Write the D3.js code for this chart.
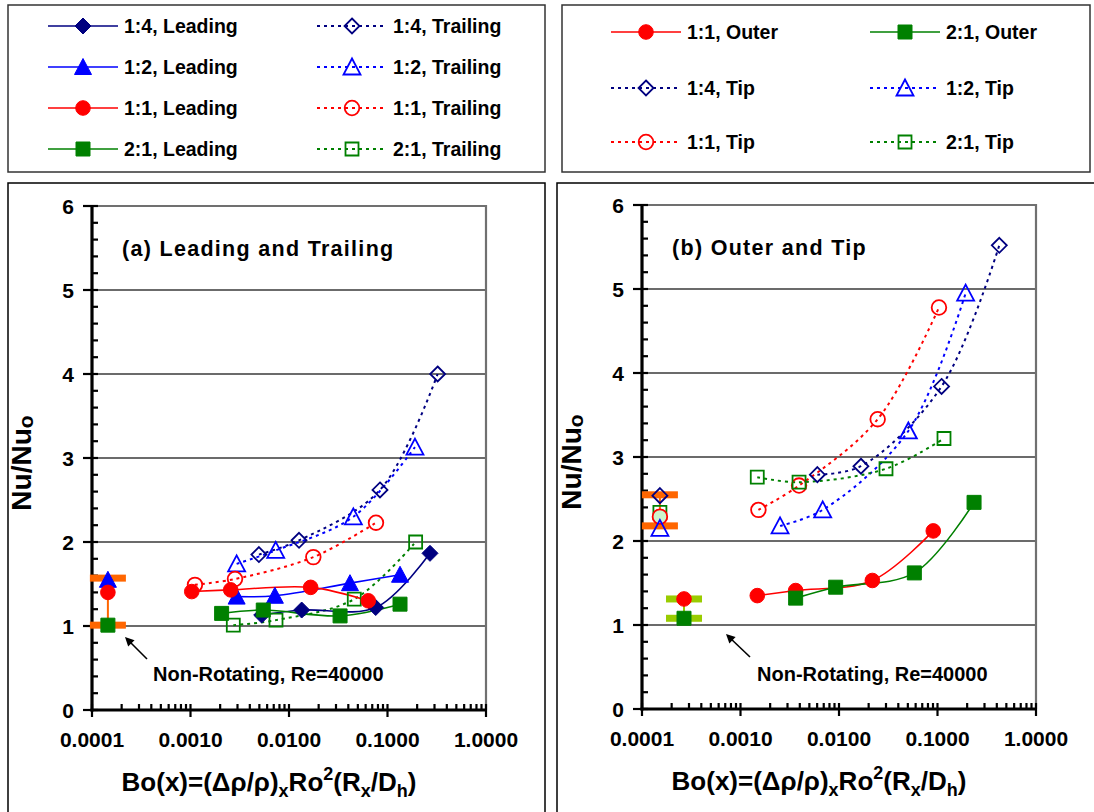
<!DOCTYPE html>
<html><head><meta charset="utf-8">
<script src="https://cdn.jsdelivr.net/npm/d3@7"></script>
<style>
body{margin:0;background:#fff}
svg{display:block}
text{font-family:"Liberation Sans",Arial,sans-serif;font-weight:bold;fill:#000}
</style>
</head><body>
<svg id="chart" width="1094" height="812"></svg>
<script>
// ---- axis ticks ----
const boTicks = [0.0001, 0.001, 0.01, 0.1, 1];
const boTickLabels = ["0.0001", "0.0010", "0.0100", "0.1000", "1.0000"];
const nuTicks = [0, 1, 2, 3, 4, 5, 6];

// ---- (a) Leading and Trailing ----
const bo14Lead = [0.00528, 0.01345, 0.0759, 0.270];
const nu14Lead = [1.13, 1.19, 1.22, 1.865];
const bo12Lead = [0.00294, 0.00719, 0.0416, 0.134];
const nu12Lead = [1.35, 1.36, 1.51, 1.61];
const bo11Lead = [0.00103, 0.00256, 0.0166, 0.0638];
const nu11Lead = [1.41, 1.43, 1.46, 1.30];
const bo21Lead = [0.00207, 0.00548, 0.033, 0.134];
const nu21Lead = [1.15, 1.19, 1.12, 1.26];

const bo14Trail = [0.00495, 0.01264, 0.0839, 0.323];
const nu14Trail = [1.85, 2.02, 2.62, 4.00];
const bo12Trail = [0.00294, 0.00733, 0.045, 0.190];
const nu12Trail = [1.74, 1.90, 2.30, 3.13];
const bo11Trail = [0.00111, 0.00283, 0.01766, 0.0764];
const nu11Trail = [1.49, 1.56, 1.82, 2.23];
const bo21Trail = [0.00272, 0.00738, 0.046, 0.193];
const nu21Trail = [1.01, 1.07, 1.32, 2.00];

// ---- (b) Outer and Tip ----
const bo11Outer = [0.00148, 0.00363, 0.0218, 0.0906];
const nu11Outer = [1.35, 1.41, 1.53, 2.12];
const bo21Outer = [0.00363, 0.00925, 0.0582, 0.235];
const nu21Outer = [1.32, 1.45, 1.62, 2.46];

const bo14Tip = [0.00603, 0.0167, 0.110, 0.424];
const nu14Tip = [2.79, 2.89, 3.84, 5.52];
const bo12Tip = [0.00252, 0.00683, 0.0506, 0.193];
const nu12Tip = [2.18, 2.37, 3.31, 4.95];
const bo11Tip = [0.00152, 0.00393, 0.0247, 0.1035];
const nu11Tip = [2.37, 2.66, 3.45, 4.78];
const bo21Tip = [0.00148, 0.00393, 0.030, 0.1164];
const nu21Tip = [2.76, 2.70, 2.86, 3.22];

// ---- non-rotating reference (Re=40000) ----
const nonRotBoA = 0.000145;
const nonRotA = [{key: "12", nu: 1.55}, {key: "11", nu: 1.40}, {key: "21", nu: 1.01}];
const nonRotRangeA = [1.01, 1.57];

const nonRotBoTip = 0.000152;
const nonRotTip = [{key: "14", nu: 2.54}, {key: "21", nu: 2.34}, {key: "11", nu: 2.29}, {key: "12", nu: 2.15}];
const nonRotRangeTip = [2.18, 2.55];

const nonRotBoOuter = 0.000267;
const nonRotOuter = [{key: "11", nu: 1.31}, {key: "21", nu: 1.08}];
const nonRotRangeOuter = [1.08, 1.31];

// ---- styles ----
const colors = {"14": "#000080", "12": "#0000FF", "11": "#FF0000", "21": "#008000"};
const shapes = {"14": "diamond", "12": "triangle", "11": "circle", "21": "square"};

const svg = d3.select("#chart");
svg.append("rect").attr("width", 1094).attr("height", 812).attr("fill", "#fff");

function zip(bo, nu) { return bo.map((b, i) => ({bo: b, nu: nu[i]})); }

function shapePath(shape) {
  switch (shape) {
    case "circle": return d3.symbol(d3.symbolCircle, Math.PI * 7.3 * 7.3)();
    case "square": return "M-7,-7H7V7H-7Z";
    case "triangle": return "M0,-8.5L8.5,7.5H-8.5Z";
    case "diamond": return "M0,-8L8,0L0,8L-8,0Z";
  }
}

function marker(g, key, cx, cy, filled, fillOverride) {
  const c = colors[key];
  const sh = shapes[key];
  let p = shapePath(sh);
  if (!filled && sh !== "circle") {
    // open markers are slightly smaller outlines
    if (sh === "square") p = "M-6.5,-6.5H6.5V6.5H-6.5Z";
    if (sh === "diamond") p = "M0,-7.5L7.5,0L0,7.5L-7.5,0Z";
  }
  g.append("path")
    .attr("d", p)
    .attr("transform", `translate(${cx},${cy})`)
    .attr("fill", filled ? c : (fillOverride || "none"))
    .attr("stroke", c)
    .attr("stroke-width", filled ? 1 : 1.8);
}

function drawPanel(cfg) {
  const x = d3.scaleLog().domain([1e-4, 1]).range([cfg.left, cfg.right]);
  const y = d3.scaleLinear().domain([0, 6]).range([cfg.bottom, cfg.top]);
  const g = svg.append("g");

  // outer frame
  g.append("rect").attr("x", cfg.boxX).attr("y", cfg.boxY)
    .attr("width", cfg.boxW).attr("height", cfg.boxH)
    .attr("fill", "#fff").attr("stroke", "#000").attr("stroke-width", 1.5);

  // gridlines
  g.selectAll(".grid").data(nuTicks.filter(v => v > 0 && v < 6)).join("line")
    .attr("x1", cfg.left).attr("x2", cfg.right)
    .attr("y1", d => y(d)).attr("y2", d => y(d))
    .attr("stroke", "#3a3a3a").attr("stroke-width", 1.3);

  // plot-area border (top and right)
  g.append("path")
    .attr("d", `M${cfg.left},${y(6)}H${cfg.right}V${y(0)}`)
    .attr("fill", "none").attr("stroke", "#707070").attr("stroke-width", 2.2);

  // y axis
  const minorY = d3.range(1, 30).map(i => i * 0.2).filter(v => Math.abs(v - Math.round(v)) > 1e-6);
  g.selectAll(".ymin").data(minorY).join("line")
    .attr("x1", cfg.left).attr("x2", cfg.left + 6)
    .attr("y1", d => y(d)).attr("y2", d => y(d))
    .attr("stroke", "#000").attr("stroke-width", 2.2);
  g.selectAll(".ymaj").data(nuTicks).join("line")
    .attr("x1", cfg.left - 9).attr("x2", cfg.left + 6)
    .attr("y1", d => y(d)).attr("y2", d => y(d))
    .attr("stroke", "#000").attr("stroke-width", 2.2);
  g.selectAll(".ylab").data(nuTicks).join("text")
    .attr("x", cfg.left - 18).attr("y", d => y(d))
    .attr("dy", "0.36em").attr("text-anchor", "end")
    .attr("font-size", 21).text(d => d);

  // x axis
  const minorX = [];
  for (let e = -4; e < 0; e++) for (let m = 2; m <= 9; m++) minorX.push(m * Math.pow(10, e));
  g.selectAll(".xmin").data(minorX).join("line")
    .attr("x1", d => x(d)).attr("x2", d => x(d))
    .attr("y1", cfg.bottom).attr("y2", cfg.bottom - 6)
    .attr("stroke", "#000").attr("stroke-width", 2.2);
  g.selectAll(".xmaj").data(boTicks).join("line")
    .attr("x1", d => x(d)).attr("x2", d => x(d))
    .attr("y1", cfg.bottom + 7).attr("y2", cfg.bottom - 6)
    .attr("stroke", "#000").attr("stroke-width", 2.2);
  g.selectAll(".xlab").data(boTicks).join("text")
    .attr("x", d => x(d)).attr("y", cfg.bottom + 37)
    .attr("text-anchor", "middle").attr("font-size", 21)
    .text((d, i) => boTickLabels[i]);

  g.append("line").attr("x1", cfg.left).attr("x2", cfg.left)
    .attr("y1", y(6)).attr("y2", y(0) + 1.5)
    .attr("stroke", "#000").attr("stroke-width", 3.2);
  g.append("line").attr("x1", cfg.left - 1.5).attr("x2", cfg.right)
    .attr("y1", y(0)).attr("y2", y(0))
    .attr("stroke", "#000").attr("stroke-width", 3.2);

  // axis titles
  const yt = g.append("text")
    .attr("transform", `translate(${cfg.left - 61},${(y(0) + y(6)) / 2 + 5}) rotate(-90)`)
    .attr("text-anchor", "middle").attr("font-size", 28);
  yt.append("tspan").text("Nu/Nu");
  yt.append("tspan").attr("font-size", 21).attr("dy", 2).text("o");

  const xt = g.append("text")
    .attr("x", cfg.xTitleX).attr("y", cfg.bottom + 81)
    .attr("text-anchor", "middle").attr("font-size", 26);
  xt.append("tspan").text("Bo(x)=(Δρ/ρ)");
  xt.append("tspan").attr("font-size", 18).attr("dy", 6).text("x");
  xt.append("tspan").attr("dy", -6).text("Ro");
  xt.append("tspan").attr("font-size", 18).attr("dy", -11).text("2");
  xt.append("tspan").attr("dy", 11).text("(R");
  xt.append("tspan").attr("font-size", 18).attr("dy", 6).text("x");
  xt.append("tspan").attr("dy", -6).text("/D");
  xt.append("tspan").attr("font-size", 18).attr("dy", 6).text("h");
  xt.append("tspan").attr("dy", -6).text(")");

  // panel title
  g.append("text").attr("x", cfg.left + 30).attr("y", cfg.top + 50)
    .attr("font-size", 21.5).attr("letter-spacing", 1.3).text(cfg.title);

  // non-rotating annotation
  g.append("text").attr("x", cfg.noteX).attr("y", 681)
    .attr("font-size", 20).text("Non-Rotating, Re=40000");
  g.append("line")
    .attr("x1", cfg.arrow[0]).attr("y1", cfg.arrow[1])
    .attr("x2", cfg.arrow[2] + 3).attr("y2", cfg.arrow[3] + 3)
    .attr("stroke", "#000").attr("stroke-width", 1.6);
  const ang = Math.atan2(cfg.arrow[3] - cfg.arrow[1], cfg.arrow[2] - cfg.arrow[0]);
  const ax = cfg.arrow[2], ay = cfg.arrow[3];
  const L = 9, W = 4.5;
  const bx = ax - L * Math.cos(ang), by = ay - L * Math.sin(ang);
  g.append("path")
    .attr("d", `M${ax},${ay}L${bx + W * Math.sin(ang)},${by - W * Math.cos(ang)}L${bx - W * Math.sin(ang)},${by + W * Math.cos(ang)}Z`)
    .attr("fill", "#000");

  // range bars for the non-rotating reference
  cfg.ranges.forEach(r => {
    g.append("line").attr("x1", x(r.bo)).attr("x2", x(r.bo))
      .attr("y1", y(r.lo)).attr("y2", y(r.hi))
      .attr("stroke", r.color).attr("stroke-width", 2);
    [r.lo, r.hi].forEach(v => {
      g.append("rect").attr("x", x(r.bo) - 18).attr("y", y(v) - 3.5)
        .attr("width", 36).attr("height", 7).attr("fill", r.color);
    });
  });

  // series
  const line = d3.line().x(d => x(d.bo)).y(d => y(d.nu)).curve(d3.curveCatmullRom.alpha(0.5));
  cfg.series.forEach(s => {
    g.append("path").datum(zip(s.bo, s.nu)).attr("d", line)
      .attr("fill", "none").attr("stroke", colors[s.key])
      .attr("stroke-width", s.filled ? 1.6 : 2)
      .attr("stroke-dasharray", s.filled ? null : "3,4");
  });
  cfg.series.forEach(s => {
    zip(s.bo, s.nu).forEach(d => marker(g, s.key, x(d.bo), y(d.nu), s.filled));
  });

  // non-rotating markers
  cfg.nonRot.forEach(n => {
    n.pts.forEach(p => marker(g, p.key, x(n.bo), y(p.nu), n.filled, p.key === "11" && !n.filled ? "#ccf5cc" : null));
  });
}

drawPanel({
  left: 92, right: 486, top: 206, bottom: 710,
  boxX: 8, boxY: 183, boxW: 537, boxH: 640,
  xTitleX: 269,
  title: "(a) Leading and Trailing",
  noteX: 153, arrow: [147, 659, 125, 637],
  ranges: [{bo: nonRotBoA, lo: nonRotRangeA[0], hi: nonRotRangeA[1], color: "#FF6600"}],
  series: [
    {key: "14", bo: bo14Trail, nu: nu14Trail, filled: false},
    {key: "12", bo: bo12Trail, nu: nu12Trail, filled: false},
    {key: "11", bo: bo11Trail, nu: nu11Trail, filled: false},
    {key: "21", bo: bo21Trail, nu: nu21Trail, filled: false},
    {key: "14", bo: bo14Lead, nu: nu14Lead, filled: true},
    {key: "12", bo: bo12Lead, nu: nu12Lead, filled: true},
    {key: "11", bo: bo11Lead, nu: nu11Lead, filled: true},
    {key: "21", bo: bo21Lead, nu: nu21Lead, filled: true}
  ],
  nonRot: [{bo: nonRotBoA, pts: nonRotA, filled: true}]
});

drawPanel({
  left: 642, right: 1036, top: 205, bottom: 709,
  boxX: 557, boxY: 183, boxW: 540, boxH: 640,
  xTitleX: 819,
  title: "(b) Outer and Tip",
  noteX: 757, arrow: [750, 657, 726, 634],
  ranges: [
    {bo: nonRotBoTip, lo: nonRotRangeTip[0], hi: nonRotRangeTip[1], color: "#FF6600"},
    {bo: nonRotBoOuter, lo: nonRotRangeOuter[0], hi: nonRotRangeOuter[1], color: "#99CC00"}
  ],
  series: [
    {key: "14", bo: bo14Tip, nu: nu14Tip, filled: false},
    {key: "12", bo: bo12Tip, nu: nu12Tip, filled: false},
    {key: "11", bo: bo11Tip, nu: nu11Tip, filled: false},
    {key: "21", bo: bo21Tip, nu: nu21Tip, filled: false},
    {key: "11", bo: bo11Outer, nu: nu11Outer, filled: true},
    {key: "21", bo: bo21Outer, nu: nu21Outer, filled: true}
  ],
  nonRot: [
    {bo: nonRotBoTip, pts: nonRotTip, filled: false},
    {bo: nonRotBoOuter, pts: nonRotOuter, filled: true}
  ]
});

// ---- legends ----
function legend(box, items) {
  const g = svg.append("g");
  g.append("rect").attr("x", box.x).attr("y", box.y).attr("width", box.w).attr("height", box.h)
    .attr("fill", "#fff").attr("stroke", "#333").attr("stroke-width", 1.5);
  items.forEach(it => {
    g.append("line").attr("x1", it.x).attr("x2", it.x + it.len)
      .attr("y1", it.y).attr("y2", it.y)
      .attr("stroke", colors[it.key]).attr("stroke-width", it.filled ? 1.6 : 2)
      .attr("stroke-dasharray", it.filled ? null : "3,4");
    marker(g, it.key, it.x + it.len / 2, it.y, it.filled);
    g.append("text").attr("x", it.x + it.len + 6).attr("y", it.y).attr("dy", "0.36em")
      .attr("font-size", 19.5).text(it.label);
  });
}

const legendLeftLabels = ["1:4, Leading", "1:2, Leading", "1:1, Leading", "2:1, Leading",
                          "1:4, Trailing", "1:2, Trailing", "1:1, Trailing", "2:1, Trailing"];
const legendRightLabels = ["1:1, Outer", "2:1, Outer", "1:4, Tip", "1:2, Tip", "1:1, Tip", "2:1, Tip"];

legend({x: 8, y: 5, w: 537, h: 167}, [
  {key: "14", filled: true, x: 48, y: 26, len: 70, label: legendLeftLabels[0]},
  {key: "12", filled: true, x: 48, y: 67, len: 70, label: legendLeftLabels[1]},
  {key: "11", filled: true, x: 48, y: 108, len: 70, label: legendLeftLabels[2]},
  {key: "21", filled: true, x: 48, y: 149, len: 70, label: legendLeftLabels[3]},
  {key: "14", filled: false, x: 317, y: 26, len: 70, label: legendLeftLabels[4]},
  {key: "12", filled: false, x: 317, y: 67, len: 70, label: legendLeftLabels[5]},
  {key: "11", filled: false, x: 317, y: 108, len: 70, label: legendLeftLabels[6]},
  {key: "21", filled: false, x: 317, y: 149, len: 70, label: legendLeftLabels[7]}
]);
legend({x: 562, y: 5, w: 528, h: 167}, [
  {key: "11", filled: true, x: 611, y: 32, len: 70, label: legendRightLabels[0]},
  {key: "21", filled: true, x: 870, y: 32, len: 70, label: legendRightLabels[1]},
  {key: "14", filled: false, x: 611, y: 88, len: 70, label: legendRightLabels[2]},
  {key: "12", filled: false, x: 870, y: 88, len: 70, label: legendRightLabels[3]},
  {key: "11", filled: false, x: 611, y: 142, len: 70, label: legendRightLabels[4]},
  {key: "21", filled: false, x: 870, y: 142, len: 70, label: legendRightLabels[5]}
]);
</script>
</body></html>
